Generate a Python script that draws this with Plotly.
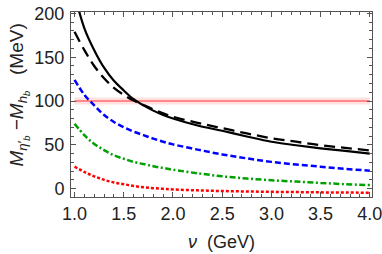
import plotly.graph_objects as go

nu = [1.0, 1.1, 1.2, 1.3, 1.4, 1.5, 1.6, 1.7, 1.8, 1.9, 2.0, 2.25, 2.5, 2.75, 3.0, 3.25, 3.5, 3.75, 4.0]
solid_black = [222, 183, 158, 138, 123, 112, 102, 95, 89, 84, 80, 72, 66, 59.5, 53.5, 49.5, 46, 43, 40]
dashed_black = [179, 158, 140, 126, 115, 107, 100.5, 95.5, 90.5, 86, 82, 75, 69, 63, 57.5, 53.5, 49.5, 46.5, 43.5]
blue_dashed = [124, 107, 95, 84, 76, 70, 65, 61, 57, 53.5, 50.5, 44.5, 39, 34.5, 30.5, 27.5, 25, 22.5, 20.5]
green_dashdot = [74, 61, 51, 44, 38, 34, 30.5, 28, 25.5, 23.5, 21.5, 17.5, 14, 11.5, 9.5, 8, 6.5, 5, 4]
red_dotted = [25, 19, 14, 10, 7, 5, 3, 1.5, 0.5, -0.3, -1, -2, -2.8, -3.3, -3.7, -4, -4.3, -4.5, -4.7]

band_x = [1.0, 4.0]
band_center = 100
band_half = 4

x_ticks = [1.0, 1.5, 2.0, 2.5, 3.0, 3.5, 4.0]
x_ticklabels = ["1.0", "1.5", "2.0", "2.5", "3.0", "3.5", "4.0"]
y_ticks = [0, 50, 100, 150, 200]
y_ticklabels = ["0", "50", "100", "150", "200"]

FONT = "Liberation Sans, Arial, sans-serif"

fig = go.Figure()

# experimental band
bx = [band_x[0], band_x[1], band_x[1], band_x[0], band_x[0]]
by = [band_center - band_half, band_center - band_half, band_center + band_half,
      band_center + band_half, band_center - band_half]
fig.add_trace(go.Scatter(x=bx, y=by, fill="toself", fillcolor="rgba(255,120,120,0.22)",
                         line=dict(width=0), mode="lines", hoverinfo="skip", showlegend=False))
fig.add_trace(go.Scatter(x=band_x, y=[band_center, band_center], mode="lines",
                         line=dict(color="#ff3030", width=1), showlegend=False))

fig.add_trace(go.Scatter(x=nu, y=red_dotted, mode="lines", line_shape="spline",
                         line=dict(color="#ff0000", width=2.5, dash="3px,2px"), showlegend=False))
fig.add_trace(go.Scatter(x=nu, y=green_dashdot, mode="lines", line_shape="spline",
                         line=dict(color="#00a000", width=2.5, dash="6px,2.5px,2px,2.5px"), showlegend=False))
fig.add_trace(go.Scatter(x=nu, y=blue_dashed, mode="lines", line_shape="spline",
                         line=dict(color="#0000ff", width=2.5, dash="6px,3px"), showlegend=False))
fig.add_trace(go.Scatter(x=nu, y=dashed_black, mode="lines", line_shape="spline",
                         line=dict(color="#000000", width=2.3, dash="11px,6px"), showlegend=False))
fig.add_trace(go.Scatter(x=nu, y=solid_black, mode="lines", line_shape="spline",
                         line=dict(color="#000000", width=2.2), showlegend=False))

axis_common = dict(showgrid=False, zeroline=False, showline=True, linecolor="#555555", linewidth=1,
                   mirror="allticks", ticks="inside", ticklen=5, tickcolor="#555555", tickwidth=1,
                   automargin=False, ticklabeloverflow="allow",
                   tickfont=dict(family=FONT, size=18, color="#222222"))

fig.update_xaxes(range=[0.964, 4.022], tickvals=x_ticks, ticktext=x_ticklabels,
                 minor=dict(ticks="inside", dtick=0.1, tick0=1.0, ticklen=3, tickcolor="#555555"),
                 ticklabelstandoff=0, **axis_common)
fig.update_yaxes(range=[-9.6, 201.6], tickvals=y_ticks, ticktext=y_ticklabels,
                 minor=dict(ticks="inside", dtick=10, tick0=0, ticklen=3, tickcolor="#555555"),
                 ticklabelstandoff=2, **axis_common)

fig.add_annotation(text="<i>ν</i>  (GeV)", xref="paper", yref="paper", x=0.5, y=-0.245,
                   xanchor="center", yanchor="middle", showarrow=False,
                   font=dict(family=FONT, size=18, color="#222222"))
fig.add_annotation(text="<i>M</i><sub><i>η</i>′<sub><i>b</i></sub></sub> <i>−M</i><sub><i>h</i><sub><i>b</i></sub></sub>   (MeV)",
                   xref="paper", yref="paper", x=-0.172, y=0.55, textangle=-90,
                   xanchor="center", yanchor="middle", showarrow=False,
                   font=dict(family=FONT, size=19, color="#222222"))

fig.update_layout(width=382, height=254, margin=dict(l=71, r=10.3, t=11.7, b=56.5, autoexpand=False),
                  plot_bgcolor="white", paper_bgcolor="white")

fig.write_html("out.html", config={"displayModeBar": False},
               post_script="document.body.style.margin='0';")
